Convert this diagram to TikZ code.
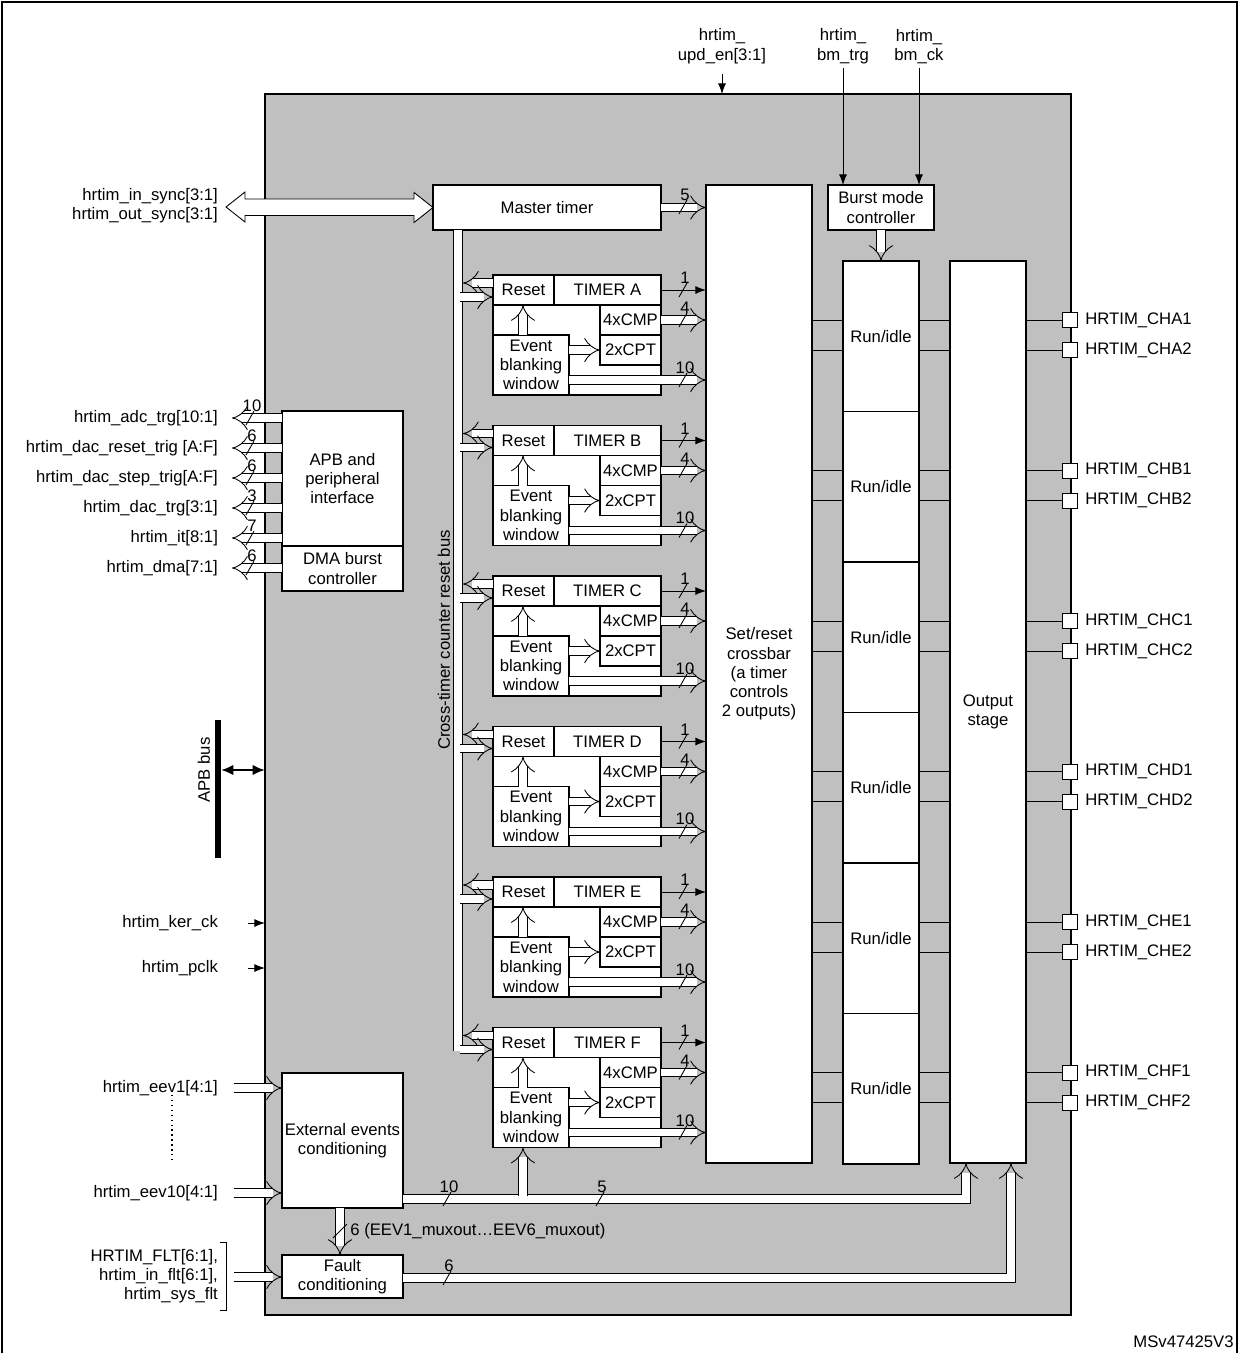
\documentclass[tikz,border=0pt]{standalone}
\usepackage{fontspec}
\setmainfont{Liberation Sans}
\usetikzlibrary{arrows.meta, positioning, calc}
\definecolor{bodygray}{HTML}{C0C0C0}

\tikzset{
  blk/.style={draw, fill=white, line width=0.6pt, inner sep=1pt, outer sep=0pt, align=center, anchor=north west},
  bus/.style={double=white, double distance=4.5pt, line width=0.5pt, -{Implies}},
  sig/.style={line width=0.5pt, -{Latex[length=6pt, width=4.5pt]}},
  lbl/.style={inner sep=1pt, align=right},
  pin/.style={draw, fill=white, minimum size=15*0.02cm, inner sep=0pt, outer sep=0pt}
}
% block of width #4 and height #5 (pixels) at top-left corner (#2,#3)
\newcommand\blk[6]{\node[blk, minimum width=#4*0.02cm, minimum height=#5*0.02cm] (#1) at (#2,#3) {#6};}
% bus width mark
\newcommand\busmark[3]{\draw[line width=0.5pt] (#1-4,#2+7) -- (#1+4,#2-7); \node[inner sep=0pt, anchor=south] at (#1+2,#2-6) {#3};}

\begin{document}
\begin{tikzpicture}[x=0.02cm, y=-0.02cm, font=\fontsize{9.5}{11}\selectfont]
  \useasboundingbox (0,0) rectangle (1239,1353);
  % frame and body
  \draw[line width=0.6pt] (2,1353) -- (2,2) -- (1237,2) -- (1237,1353);
  \draw[line width=1.6pt, fill=bodygray] (265,94) rectangle (1071,1315);
  \node[anchor=east, inner sep=0pt] (ref) at (1234,1342) {MSv47425V3};

  % main blocks
  \blk{master}{433}{185}{228}{45}{Master timer}
  \blk{xbar}{706}{185}{106}{978}{Set/reset\\crossbar\\(a timer\\controls\\2 outputs)}
  \blk{burst}{828}{185}{106}{45}{Burst mode\\controller}
  \blk{outst}{950}{261}{76}{902}{Output\\stage}
  \blk{apb}{282}{411}{121}{135}{APB and\\peripheral\\interface}
  \blk{dma}{282}{546}{121}{45}{DMA burst\\controller}
  \blk{ext}{282}{1073}{121}{135}{External events\\conditioning}
  \blk{fault}{282}{1255}{121}{43}{Fault\\conditioning}

  % reset bus
  \draw[double=white, double distance=5pt, line width=0.5pt] (master.south -| 458,0) -- (458,1051);
  \node[rotate=90, inner sep=0pt] (rstlbl) at (444,640) {Cross-timer counter reset bus};

  % timers
  \foreach \t [count=\i from 0] in {A,B,C,D,E,F} {
    \pgfmathsetmacro\y{275+150.5*\i}
    \draw[fill=white, line width=0.6pt] (493,\y) rectangle (661,\y+120);
    \blk{rst\t}{493}{\y}{61}{30}{Reset}
    \blk{tim\t}{554}{\y}{107}{30}{TIMER \t}
    \blk{cmp\t}{600}{\y+30}{61}{30}{4xCMP}
    \blk{cpt\t}{600}{\y+60}{61}{30}{2xCPT}
    \blk{evt\t}{493}{\y+60}{76}{60}{Event\\blanking\\window}
    \draw[sig] (tim\t.east |- 0,\y+15) -- (xbar.west |- 0,\y+15);
    \busmark{683}{\y+15}{1}
    \draw[bus] (cmp\t.east) -- (xbar.west |- cmp\t.east);
    \busmark{683}{\y+45}{4}
    \draw[bus] (evt\t.east |- cpt\t.west) -- (cpt\t.west);
    \draw[bus] (evt\t.east |- 0,\y+105) -- (xbar.west |- 0,\y+105);
    \busmark{683}{\y+105}{10}
    \draw[bus] (evt\t.north -| 523,0) -- (rst\t.south -| 523,0);
    \draw[bus] (rst\t.west |- 0,\y+8) -- (463,\y+8);
    \draw[bus] (460,\y+22) -- (rst\t.west |- 0,\y+22);
  }
  \draw[bus] (master.east) -- (xbar.west |- master.east);
  \busmark{683}{207}{5}

  % run/idle and output channels
  \foreach \c [count=\i from 0] in {A,B,C,D,E,F} {
    \pgfmathsetmacro\y{261+150.5*\i}
    \blk{run\c}{843}{\y}{76}{150.5}{Run/idle}
    \foreach \n/\dy in {1/59,2/89} {
      \node[pin] (pin\c\n) at (1070,\y+\dy) {};
      \node[anchor=west, inner sep=0pt] (ch\c\n) at (1085,\y+\dy) {HRTIM\_CH\c\n};
      \draw[line width=0.5pt] (xbar.east |- pin\c\n) -- (run\c.west |- pin\c\n);
      \draw[line width=0.5pt] (run\c.east |- pin\c\n) -- (outst.west |- pin\c\n);
      \draw[line width=0.5pt] (outst.east |- pin\c\n) -- (pin\c\n.west);
    }
  }
  \draw[bus] (burst.south -| 881,0) -- (runA.north -| 881,0);

  % top inputs
  \node[align=center, inner sep=0pt, anchor=south] (upd) at (722,64) {hrtim\_\\upd\_en[3:1]};
  \node[align=center, inner sep=0pt, anchor=south] (bmtrg) at (843,64) {hrtim\_\\bm\_trg};
  \node[align=center, inner sep=0pt, anchor=south] (bmck) at (919,64) {hrtim\_\\bm\_ck};
  \draw[sig] (upd.south) ++(0,10) -- (722,94);
  \draw[sig] (bmtrg.south) ++(0,4) -- (burst.north -| bmtrg);
  \draw[sig] (bmck.south) ++(0,4) -- (burst.north -| bmck);

  % sync
  \node[lbl, anchor=east] (sync) at (220,206) {hrtim\_in\_sync[3:1]\\hrtim\_out\_sync[3:1]};
  \coordinate (syncL) at (226,207);
  \draw[fill=white, line width=0.5pt] (syncL) -- ++(19,-15) -- ++(0,7) -| ($(master.west)+(-19,-15)$)
    -- (master.west) -- ++(-19,15) -- ++(0,-7) -| ($(syncL)+(19,15)$) -- cycle;

  % APB outputs
  \foreach \s/\w [count=\i from 0] in {hrtim\_adc\_trg[10:1]/10, hrtim\_dac\_reset\_trig [A:F]/6,
      hrtim\_dac\_step\_trig[A:F]/6, hrtim\_dac\_trg[3:1]/3, hrtim\_it[8:1]/7, hrtim\_dma[7:1]/6} {
    \pgfmathsetmacro\y{418+30*\i}
    \node[lbl, anchor=east] (out\i) at (220,\y) {\s};
    \draw[bus] (apb.west |- 0,\y) -- (232,\y);
    \busmark{250}{\y}{\w}
  }

  % APB bus
  \draw[line width=3.5pt] (218,720) -- (218,858);
  \node[rotate=90, inner sep=0pt] (apbbus) at (204,770) {APB bus};
  \draw[line width=1.6pt, {Latex[length=7pt,width=6pt]}-{Latex[length=7pt,width=6pt]}] (221,770) -- (265,770);

  % clocks
  \node[lbl, anchor=east] (kerck) at (220,923) {hrtim\_ker\_ck};
  \node[lbl, anchor=east] (pclk) at (220,968) {hrtim\_pclk};
  \draw[sig] (248,923) -- (265,923);
  \draw[sig] (248,968) -- (265,968);

  % external events
  \node[lbl, anchor=east] (eev1) at (220,1088) {hrtim\_eev1[4:1]};
  \node[lbl, anchor=east] (eev10) at (220,1193) {hrtim\_eev10[4:1]};
  \draw[line width=0.8pt, dotted] (172,1095) -- (172,1160);
  \draw[bus] (234,1088) -- (ext.west |- 0,1088);
  \draw[bus] (234,1193) -- (ext.west |- 0,1193);
  \draw[bus] (ext.east |- 0,1199) -| (outst.south -| 966,0);
  \draw[bus] (523,1196) -- (evtF.south -| 523,0);
  \busmark{447}{1199}{10}
  \busmark{600}{1199}{5}
  \draw[bus] (ext.south -| 340,0) -- (fault.north -| 340,0);
  \draw[line width=0.5pt] (333,1238) -- (347,1224);
  \node[anchor=west, inner sep=0pt] (muxlbl) at (350,1231) {6 (EEV1\_muxout\ldots EEV6\_muxout)};

  % fault
  \node[lbl, anchor=east] (flt) at (220,1276) {HRTIM\_FLT[6:1],\\hrtim\_in\_flt[6:1],\\hrtim\_sys\_flt};
  \draw[line width=0.5pt] (220,1242) -- (226,1242) -- (226,1310) -- (220,1310);
  \draw[bus] (234,1277) -- (fault.west |- 0,1277);
  \draw[bus] (fault.east |- 0,1278) -| (outst.south -| 1011,0);
  \busmark{447}{1278}{6}
\end{tikzpicture}
\end{document}
